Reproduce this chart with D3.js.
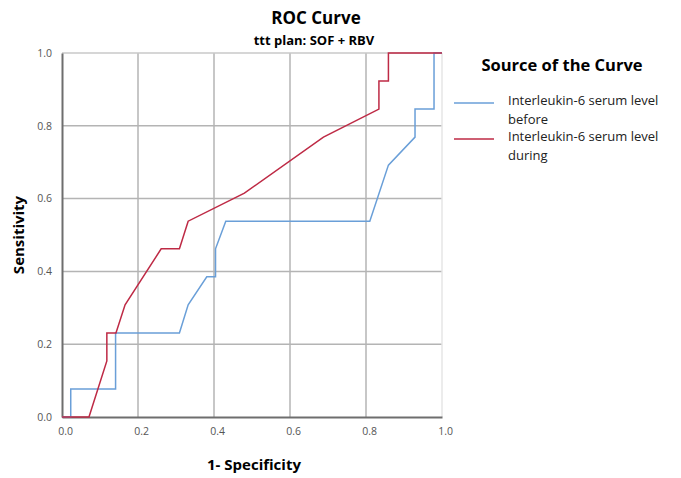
<!DOCTYPE html>
<html>
<head>
<meta charset="utf-8">
<script src="https://cdn.jsdelivr.net/npm/d3@7"></script>
<style>
  body { margin: 0; background: #fff; }
  text { font-family: "Open Sans", "Noto Sans", sans-serif; }
</style>
</head>
<body>
<div id="chart"></div>
<script>
// ROC points, 1 - specificity vs sensitivity
var beforeX = [0, 0.023, 0.023, 0.141, 0.141, 0.309, 0.332, 0.381, 0.404, 0.404, 0.431, 0.81, 0.859, 0.929, 0.929, 0.979, 0.979, 1];
var beforeY = [0, 0, 0.077, 0.077, 0.231, 0.231, 0.308, 0.385, 0.385, 0.462, 0.538, 0.538, 0.692, 0.769, 0.846, 0.846, 1, 1];
var duringX = [0, 0.071, 0.118, 0.118, 0.142, 0.166, 0.261, 0.309, 0.332, 0.48, 0.688, 0.834, 0.834, 0.859, 0.859, 1];
var duringY = [0, 0, 0.154, 0.231, 0.231, 0.308, 0.462, 0.462, 0.538, 0.615, 0.769, 0.846, 0.923, 0.923, 1, 1];
var tickValues = [0, 0.2, 0.4, 0.6, 0.8, 1.0];
var seriesNames = ["Interleukin-6 serum level before", "Interleukin-6 serum level during"];
var seriesColors = ["#6a9fd8", "#be2a45"];

var width = 681, height = 478;
var plotLeft = 62, plotRight = 442, plotTop = 53, plotBottom = 417;

var svg = d3.select("#chart").append("svg")
    .attr("width", width)
    .attr("height", height);

var x = d3.scaleLinear().domain([0, 1]).range([plotLeft, plotRight]);
var y = d3.scaleLinear().domain([0, 1]).range([plotBottom, plotTop]);

// grid
svg.selectAll(".vgrid")
    .data(tickValues.slice(1, 5))
    .enter()
    .append("line")
    .attr("x1", function (d) { return x(d); })
    .attr("x2", function (d) { return x(d); })
    .attr("y1", plotTop)
    .attr("y2", plotBottom)
    .attr("stroke", "#b4b4b4")
    .attr("stroke-width", 1.5);

svg.selectAll(".hgrid")
    .data(tickValues.slice(1, 5))
    .enter()
    .append("line")
    .attr("x1", plotLeft)
    .attr("x2", plotRight)
    .attr("y1", function (d) { return y(d); })
    .attr("y2", function (d) { return y(d); })
    .attr("stroke", "#b4b4b4")
    .attr("stroke-width", 1.5);

// frame
svg.append("line").attr("x1", plotLeft).attr("x2", plotRight).attr("y1", plotTop).attr("y2", plotTop)
    .attr("stroke", "#c8c8c8").attr("stroke-width", 1.5);
svg.append("line").attr("x1", plotRight).attr("x2", plotRight).attr("y1", plotTop).attr("y2", plotBottom)
    .attr("stroke", "#e6e6e6").attr("stroke-width", 1.5);

// axes
var xAxis = d3.axisBottom(x).tickValues(tickValues).tickSize(0).tickPadding(11)
    .tickFormat(d3.format(".1f"));
var yAxis = d3.axisLeft(y).tickValues(tickValues).tickSize(0).tickPadding(10)
    .tickFormat(d3.format(".1f"));

var gx = svg.append("g").attr("transform", "translate(0," + plotBottom + ")").call(xAxis);
var gy = svg.append("g").attr("transform", "translate(" + plotLeft + ",0)").call(yAxis);
[gx, gy].forEach(function (g) {
    g.select(".domain").attr("stroke", "#6e6e6e").attr("stroke-width", 2);
    g.selectAll("text")
        .style("font-family", "Open Sans")
        .style("font-size", "10.5px")
        .style("fill", "#555");
});
gx.selectAll("text").attr("dx", 3);

// curves
var line = d3.line()
    .x(function (d) { return x(d[0]); })
    .y(function (d) { return y(d[1]); });

var curves = [d3.zip(beforeX, beforeY), d3.zip(duringX, duringY)];
svg.selectAll(".curve")
    .data(curves)
    .enter()
    .append("path")
    .attr("class", "curve")
    .attr("d", line)
    .attr("fill", "none")
    .attr("stroke", function (d, i) { return seriesColors[i]; })
    .attr("stroke-width", 1.5);

// titles
svg.append("text")
    .attr("x", 316).attr("y", 24)
    .attr("text-anchor", "middle")
    .style("font-size", "17px").style("font-weight", "bold")
    .text("ROC Curve");
svg.append("text")
    .attr("x", 314).attr("y", 45)
    .attr("text-anchor", "middle")
    .style("font-size", "13px").style("font-weight", "bold")
    .text("ttt plan: SOF + RBV");
svg.append("text")
    .attr("x", 254).attr("y", 470)
    .attr("text-anchor", "middle")
    .style("font-size", "15px").style("font-weight", "bold")
    .text("1- Specificity");
svg.append("text")
    .attr("transform", "translate(24,235) rotate(-90)")
    .attr("text-anchor", "middle")
    .style("font-size", "15px").style("font-weight", "bold")
    .text("Sensitivity");

// legend
svg.append("text")
    .attr("x", 562).attr("y", 71)
    .attr("text-anchor", "middle")
    .style("font-size", "16.5px").style("font-weight", "bold")
    .text("Source of the Curve");

var legend = svg.selectAll(".legend")
    .data(seriesNames)
    .enter()
    .append("g")
    .attr("transform", function (d, i) { return "translate(454," + (103 + i * 36) + ")"; });
legend.append("line")
    .attr("x1", 0).attr("x2", 40)
    .attr("stroke", function (d, i) { return seriesColors[i]; })
    .attr("stroke-width", 1.5);
legend.append("text")
    .attr("x", 54).attr("y", 2)
    .style("font-size", "13px")
    .style("fill", "#222")
    .text("Interleukin-6 serum level");
legend.append("text")
    .attr("x", 54).attr("y", 21)
    .style("font-size", "13px")
    .style("fill", "#222")
    .text(function (d) { return d.replace("Interleukin-6 serum level ", ""); });
</script>
</body>
</html>
